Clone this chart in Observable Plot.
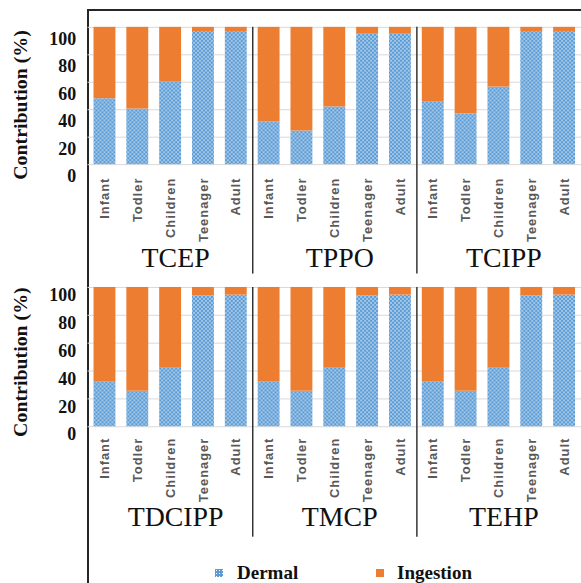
<!DOCTYPE html>
<html>
<head>
<meta charset="utf-8">
<script src="https://cdn.jsdelivr.net/npm/d3@7"></script>
<script src="https://cdn.jsdelivr.net/npm/@observablehq/plot@0.6"></script>
<style>
  html, body { margin: 0; padding: 0; background: #fff; overflow: hidden; }
  #wrap { position: relative; width: 581px; height: 583px; overflow: hidden; background: #fff; }
  #frame { position: absolute; left: 87px; top: 9px; width: 600px; height: 600px;
           border-left: 2px solid #262626; border-top: 2px solid #262626; }
  .row { position: absolute; left: 0; }
  #legend { position: absolute; top: 562px; left: 0; width: 581px; height: 22px;
            font-family: "Liberation Serif", "Times New Roman", serif; font-weight: bold; font-size: 19px; color: #111; }
  .lg { position: absolute; top: 0; line-height: 22px; white-space: nowrap; }
  .sw { position: absolute; top: 7px; width: 8px; height: 8px; }
</style>
</head>
<body>
<div id="wrap">
  <svg width="0" height="0" style="position:absolute">
    <defs>
      <pattern id="dermalDots" patternUnits="userSpaceOnUse" width="4" height="4">
        <rect width="4" height="4" fill="#5B9BD5"></rect>
        <circle cx="1" cy="1" r="0.8" fill="#ffffff"></circle>
        <circle cx="3" cy="3" r="0.8" fill="#ffffff"></circle>
      </pattern>
    </defs>
  </svg>
  <div id="frame"></div>
  <div id="row1" class="row" style="top:0px"></div>
  <div id="row2" class="row" style="top:282px"></div>
  <div id="legend">
    <div class="sw" style="left:215px;background:#5B9BD5 radial-gradient(circle, #fff 0.8px, transparent 1px) 0 0/3px 3px;"></div>
    <div class="lg" style="left:237px">Dermal</div>
    <div class="sw" style="left:376px;background:#ED7D31"></div>
    <div class="lg" style="left:397px">Ingestion</div>
  </div>
</div>
<script>
// ---- data ----
const ages = ["Infant", "Todler", "Children", "Teenager", "Adult"];
const pathways = ["Dermal", "Ingestion"];
const yTicks = [0, 20, 40, 60, 80, 100];
const yLabel = "Contribution (%)";

const compoundsTop = ["TCEP", "TPPO", "TCIPP"];
const dermalTCEP   = [48, 40.5, 60.5, 97, 97];
const ingestTCEP   = [52, 59.5, 39.5, 3, 3];
const dermalTPPO   = [31, 24.5, 42, 95, 95];
const ingestTPPO   = [69, 75.5, 58, 5, 5];
const dermalTCIPP  = [45.5, 37, 56.5, 97, 97];
const ingestTCIPP  = [54.5, 63, 43.5, 3, 3];

const compoundsBottom = ["TDCIPP", "TMCP", "TEHP"];
const dermalTDCIPP = [32, 25.5, 42, 94, 94.5];
const ingestTDCIPP = [68, 74.5, 58, 6, 5.5];
const dermalTMCP   = [32, 25.5, 42, 94, 94.5];
const ingestTMCP   = [68, 74.5, 58, 6, 5.5];
const dermalTEHP   = [32, 25.5, 42, 94, 94.5];
const ingestTEHP   = [68, 74.5, 58, 6, 5.5];

const serif = "'Liberation Serif', 'Times New Roman', serif";
const sans = "'Liberation Sans', Arial, sans-serif";

function buildRow(compounds, dermal, ingest, o) {
  const data = [];
  compounds.forEach((c, i) => ages.forEach((a, j) => {
    data.push({key: c + "|" + a, pathway: "Dermal", value: dermal[i][j]});
    data.push({key: c + "|" + a, pathway: "Ingestion", value: ingest[i][j]});
  }));
  const keys = compounds.flatMap(c => ages.map(a => c + "|" + a));
  const width = 584, marginLeft = 88, marginRight = 0;
  const step = (width - marginLeft - marginRight) / keys.length;
  const dividers = compounds.slice(0, -1).map(c => c + "|Adult");
  const svg = Plot.plot({
    width, height: o.height, marginLeft, marginRight,
    marginTop: o.marginTop, marginBottom: o.marginBottom,
    style: {background: "transparent", overflow: "visible"},
    x: {domain: keys, paddingInner: 0.34, paddingOuter: 0.17, axis: null},
    y: {domain: [0, 100], axis: null},
    color: {domain: pathways, range: ["url(#dermalDots)", "#ED7D31"]},
    marks: [
      Plot.ruleY(yTicks, {stroke: "#d9d9d9", strokeWidth: 1}),
      Plot.barY(data, {x: "key", y: "value", fill: "pathway"}),
      Plot.axisY(yTicks, {tickSize: 0, tickPadding: 12, dy: o.yDy, fontSize: 18,
        fontFamily: serif, fontWeight: "bold", fill: "#111", label: null}),
      Plot.axisX({tickRotate: -90, tickSize: 0, tickPadding: o.xPad, label: null,
        tickFormat: d => d.split("|")[1], fontSize: 13, fontFamily: sans,
        fontWeight: "bold", fill: "#595959"}),
      Plot.ruleX(dividers, {x: d => d, dx: step / 2, stroke: "#333", strokeWidth: 1.5,
        insetBottom: -o.divExt}),
      Plot.text(compounds, {x: d => d + "|Children", text: d => d, frameAnchor: "bottom",
        dy: o.titleDy, dx: 5, fontSize: 28, fontFamily: serif, fill: "#111"}),
      Plot.text([yLabel], {text: d => d, frameAnchor: "left", textAnchor: "middle", rotate: -90,
        dx: -68, dy: o.labelDy, fontSize: 20, fontFamily: serif, fontWeight: "bold", fill: "#111"})
    ]
  });
  d3.select(svg).selectAll('g[aria-label="x-axis tick label"] text').style("letter-spacing", "1px");
  return svg;
}

document.getElementById("row1").appendChild(buildRow(
  compoundsTop, [dermalTCEP, dermalTPPO, dermalTCIPP], [ingestTCEP, ingestTPPO, ingestTCIPP],
  {height: 282, marginTop: 27, marginBottom: 117, yDy: 12, xPad: 13, divExt: 110, titleDy: 103, labelDy: 9}
));
document.getElementById("row2").appendChild(buildRow(
  compoundsBottom, [dermalTDCIPP, dermalTMCP, dermalTEHP], [ingestTDCIPP, ingestTMCP, ingestTEHP],
  {height: 263, marginTop: 5, marginBottom: 118, yDy: 8, xPad: 11, divExt: 111, titleDy: 100, labelDy: 5}
));
</script>
</body>
</html>
